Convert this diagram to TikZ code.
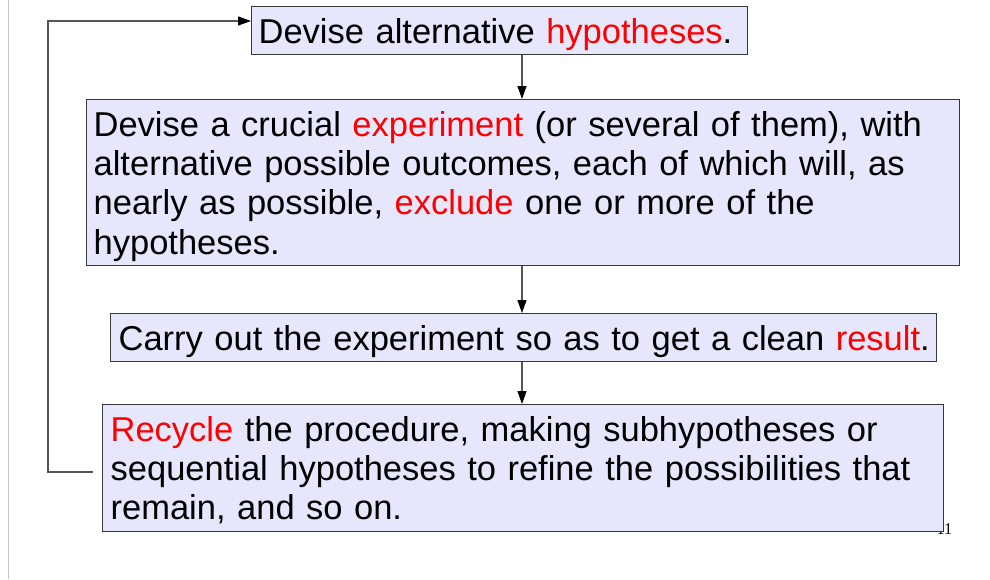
\documentclass[tikz,border=0pt]{standalone}
\usepackage{fontspec}
\setmainfont{Liberation Sans}
\newfontfamily\serifnum{Liberation Serif}
\usetikzlibrary{arrows.meta}
\definecolor{boxfill}{RGB}{230,230,252}
\definecolor{boxline}{RGB}{55,55,55}
\definecolor{connc}{RGB}{85,85,85}
\definecolor{hl}{RGB}{255,0,0}
\newcommand{\firststrut}{\rule{0pt}{36.5pt}}
\newcommand{\laststrut}{\rule[-11.5pt]{0pt}{0pt}}
\begin{document}
\begin{tikzpicture}[x=1pt,y=1pt,
  stepbox/.style={draw=boxline, line width=1.3pt, fill=boxfill, anchor=north west,
    inner xsep=7pt, inner ysep=0pt, align=left, font=\fontsize{34.5}{39.3}\selectfont},
  conn/.style={draw=connc, line width=1.2pt, -{Triangle[length=13pt,width=9pt,black]}}
]
\useasboundingbox (0,0) rectangle (990,-579);
\draw[black!22, line width=1pt] (8,0) -- (8,-579);
\node[font=\serifnum\fontsize{16.3}{16.3}\selectfont, anchor=base east, inner sep=0pt] (pg) at (952.5,-534) {11};
\node[stepbox, text width=482pt] (h) at (251,-6)
  {\mbox{\firststrut\laststrut Devise alternative \textcolor{hl}{hypotheses}.}};
\node[stepbox, text width=859pt] (e) at (86,-99)
  {\mbox{\firststrut Devise a crucial \textcolor{hl}{experiment} (or several of them), with}\\
   \mbox{alternative possible outcomes, each of which will, as}\\
   \mbox{nearly as possible, \textcolor{hl}{exclude} one or more of the}\\
   \mbox{\laststrut hypotheses.}};
\node[stepbox, inner xsep=8pt, text width=810pt] (c) at (110,-313)
  {\mbox{\firststrut\laststrut Carry out the experiment so as to get a clean \textcolor{hl}{result}.}};
\node[stepbox, inner xsep=8pt, text width=825pt] (r) at (102,-404)
  {\mbox{\firststrut\textcolor{hl}{Recycle} the procedure, making subhypotheses or}\\
   \mbox{sequential hypotheses to refine the possibilities that}\\
   \mbox{\laststrut remain, and so on.}};
\coordinate (col) at (522,0);
\coordinate (fbstart) at (93,-472);
\coordinate (fbb) at (48,-472);
\coordinate (fbt) at (48,-21);
\draw[conn] (h.south -| col) -- (e.north -| col);
\draw[conn] (e.south -| col) -- (c.north -| col);
\draw[conn] (c.south -| col) -- (r.north -| col);
\draw[conn] (fbstart) -- (fbb) -- (fbt) -- (h.west |- fbt);
\end{tikzpicture}
\end{document}
